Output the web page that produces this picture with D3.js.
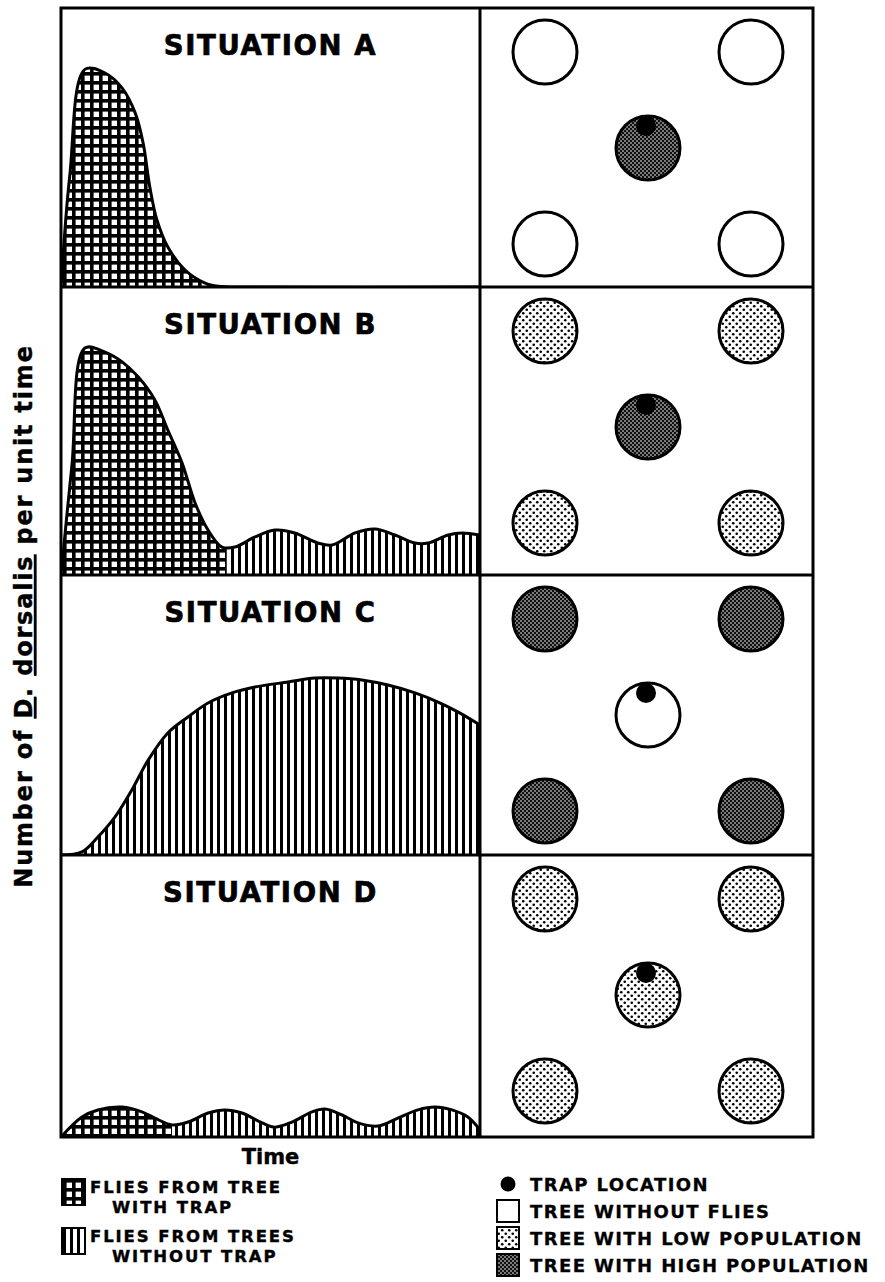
<!DOCTYPE html>
<html>
<head>
<meta charset="utf-8">
<script src="https://cdn.jsdelivr.net/npm/d3@7"></script>
<style>
  html, body { margin: 0; padding: 0; background: #fff; }
  svg { display: block; }
  text { font-family: "DejaVu Sans", "Liberation Sans", sans-serif; font-weight: bold; fill: #000; }
</style>
</head>
<body>
<svg id="chart" width="885" height="1282"></svg>
<script>
// ---------------- DATA ----------------
const situations = ["SITUATION A", "SITUATION B", "SITUATION C", "SITUATION D"];

// time (0-100) and count (0-100, relative to panel height)
const timeA  = [0, 2.1, 5.7, 10.5, 14.6, 17.7, 19.6, 21.2, 22.9, 25.5, 29.6, 34.4, 37.5, 45, 100];
const countA = [0, 40, 78, 76.7, 71.3, 62.4, 51.6, 35.8, 24, 14.3, 6.1, 1.4, 0.3, 0, 0];

const timeB  = [0, 2.6, 5.7, 10.5, 14.6, 18.4, 22.4, 25.5, 28.9, 32, 35.1, 38.4, 41.5, 46.3, 51.1, 55.8, 61.3, 64.7, 70.2, 74.9, 79.7, 84.5, 87.6, 92.4, 95.7, 100];
const countB = [0, 38, 78.8, 77.4, 74, 68.8, 60.8, 50.3, 38.9, 25, 15.6, 9.7, 9.7, 13.2, 15.6, 14.6, 11.1, 10.4, 14.6, 16, 13.9, 11.1, 11.1, 13.9, 14.6, 13.9];

const timeC  = [0, 5, 8.8, 12.9, 16.9, 20.8, 25.5, 30.3, 35.1, 40.8, 46.3, 54.2, 60.6, 66.1, 71.8, 78, 84.5, 90, 94.7, 100];
const countC = [0, 1.1, 6.4, 13.6, 23.2, 33.9, 43.6, 49.3, 54.3, 57.9, 60, 61.8, 63.2, 63.2, 62.5, 60.7, 57.9, 54.6, 51.1, 46.4];

const timeD  = [0, 5, 8.8, 14.6, 19.3, 22.4, 26.5, 30.3, 35.1, 39.1, 43.2, 48, 51.1, 55.1, 59.9, 63, 67.1, 70.9, 75.7, 80.4, 85.2, 89.3, 93.3, 97.1, 100];
const countD = [0, 7.1, 9.6, 10.6, 8.9, 6.7, 4.3, 5.3, 8.5, 9.6, 8.5, 5, 3.5, 5.3, 8.9, 9.9, 7.8, 5, 3.9, 6.7, 9.6, 10.6, 9.6, 7.1, 2.5];

const seriesTime  = [timeA, timeB, timeC, timeD];
const seriesCount = [countA, countB, countC, countD];
// time at which flies from the tree with trap stop contributing (crosshatch -> vertical stripes)
const trapEndTime = [100, 39.5, 0, 26.5];

// tree grid (column, row) for the five trees, center one carries the trap
const treeCol = [0, 2, 1, 0, 2];
const treeRow = [0, 0, 1, 2, 2];
const trapTree = 2;
// tree status per situation: corner trees, center tree
const cornerStatus = ["none", "low", "high", "low"];
const centerStatus = ["high", "high", "none", "low"];

const legendLeft  = [["FLIES FROM TREE", "WITH TRAP"], ["FLIES FROM TREES", "WITHOUT TRAP"]];
const legendRight = ["TRAP LOCATION", "TREE WITHOUT FLIES", "TREE WITH LOW POPULATION", "TREE WITH HIGH POPULATION"];
const yTitle = ["Number of ", "D", ". ", "dorsalis", " per unit time"];
const xTitle = "Time";

// ---------------- LAYOUT ----------------
const frameLeft = 61, frameMid = 480, frameRight = 813;
const panelEdges = [8, 287, 575, 855, 1137];

const svg = d3.select("#chart");
const defs = svg.append("defs");

// patterns
const ph = defs.append("pattern").attr("id", "hatch").attr("patternUnits", "userSpaceOnUse")
  .attr("width", 9).attr("height", 9);
ph.append("rect").attr("width", 9).attr("height", 9).attr("fill", "#fff");
ph.append("rect").attr("x", 0).attr("y", 0).attr("width", 3.6).attr("height", 9).attr("fill", "#000");
ph.append("rect").attr("x", 0).attr("y", 0).attr("width", 9).attr("height", 3.6).attr("fill", "#000");

const pv = defs.append("pattern").attr("id", "stripes").attr("patternUnits", "userSpaceOnUse")
  .attr("width", 7).attr("height", 7);
pv.append("rect").attr("width", 7).attr("height", 7).attr("fill", "#fff");
pv.append("rect").attr("x", 0).attr("width", 3).attr("height", 7).attr("fill", "#000");

const pl = defs.append("pattern").attr("id", "low").attr("patternUnits", "userSpaceOnUse")
  .attr("width", 7).attr("height", 7);
pl.append("rect").attr("width", 7).attr("height", 7).attr("fill", "#fff");
pl.append("circle").attr("cx", 1.75).attr("cy", 1.75).attr("r", 1.3).attr("fill", "#000");
pl.append("circle").attr("cx", 5.25).attr("cy", 5.25).attr("r", 1.3).attr("fill", "#000");

const pd = defs.append("pattern").attr("id", "high").attr("patternUnits", "userSpaceOnUse")
  .attr("width", 4).attr("height", 4);
pd.append("rect").attr("width", 4).attr("height", 4).attr("fill", "#111");
pd.append("circle").attr("cx", 1).attr("cy", 1).attr("r", 0.8).attr("fill", "#fff");
pd.append("circle").attr("cx", 3).attr("cy", 3).attr("r", 0.8).attr("fill", "#fff");

const statusFill = { none: "#fff", low: "url(#low)", high: "url(#high)" };

const x = d3.scaleLinear().domain([0, 100]).range([frameLeft, frameMid]);
const gx = d3.scaleLinear().domain([0, 2]).range([frameMid + 65, frameMid + 271]);
const curve = d3.curveCatmullRom.alpha(0.5);

situations.forEach((name, i) => {
  const top = panelEdges[i], bottom = panelEdges[i + 1];
  const y = d3.scaleLinear().domain([0, 100]).range([bottom, top]);
  const gy = d3.scaleLinear().domain([0, 2]).range([top + 44, top + 236]);
  const pts = seriesTime[i].map((t, k) => [t, seriesCount[i][k]]);

  const g = svg.append("g");
  const clipId = "clip" + i;
  defs.append("clipPath").attr("id", clipId).append("rect")
    .attr("x", frameLeft).attr("y", top).attr("width", frameMid - frameLeft).attr("height", bottom - top);

  const area = d3.area().x(d => x(d[0])).y0(y(0)).y1(d => y(d[1])).curve(curve);
  const line = d3.line().x(d => x(d[0])).y(d => y(d[1])).curve(curve);

  // split clip for trap / non-trap flies
  const split = x(trapEndTime[i]);
  const cA = "clipTrap" + i, cB = "clipWild" + i;
  defs.append("clipPath").attr("id", cA).append("rect")
    .attr("x", frameLeft).attr("y", top).attr("width", Math.max(0, split - frameLeft)).attr("height", bottom - top);
  defs.append("clipPath").attr("id", cB).append("rect")
    .attr("x", split).attr("y", top).attr("width", Math.max(0, frameMid - split)).attr("height", bottom - top);

  const cg = g.append("g").attr("clip-path", `url(#${clipId})`);
  cg.append("path").datum(pts).attr("d", area).attr("fill", "url(#hatch)").attr("clip-path", `url(#${cA})`);
  cg.append("path").datum(pts).attr("d", area).attr("fill", "url(#stripes)").attr("clip-path", `url(#${cB})`);
  cg.append("path").datum(pts).attr("d", line).attr("fill", "none").attr("stroke", "#000")
    .attr("stroke-width", 3).attr("stroke-linejoin", "round");

  g.append("text").attr("x", (frameLeft + frameMid) / 2).attr("y", top + 47)
    .attr("text-anchor", "middle").attr("font-size", 27.5).attr("letter-spacing", 1.6)
    .attr("stroke", "#000").attr("stroke-width", 0.7).text(name);

  // trees
  const trees = treeCol.map((c, k) => ({ c, r: treeRow[k], status: k === trapTree ? centerStatus[i] : cornerStatus[i], trap: k === trapTree }));
  g.selectAll("circle.tree").data(trees).join("circle").attr("class", "tree")
    .attr("cx", d => gx(d.c)).attr("cy", d => gy(d.r)).attr("r", 32)
    .attr("fill", d => statusFill[d.status]).attr("stroke", "#000").attr("stroke-width", 3);
  g.selectAll("circle.trap").data(trees.filter(d => d.trap)).join("circle").attr("class", "trap")
    .attr("cx", d => gx(d.c) - 2).attr("cy", d => gy(d.r) - 22).attr("r", 10).attr("fill", "#000");
});

// frame lines
const frame = svg.append("g").attr("stroke", "#000").attr("stroke-width", 3).attr("fill", "none");
frame.append("rect").attr("x", frameLeft).attr("y", panelEdges[0])
  .attr("width", frameRight - frameLeft).attr("height", panelEdges[4] - panelEdges[0]);
frame.append("line").attr("x1", frameMid).attr("x2", frameMid).attr("y1", panelEdges[0]).attr("y2", panelEdges[4]);
panelEdges.slice(1, 4).forEach(e => frame.append("line").attr("x1", frameLeft).attr("x2", frameRight).attr("y1", e).attr("y2", e));

// axis titles
const yt = svg.append("text").attr("transform", "translate(32,616) rotate(-90)")
  .attr("text-anchor", "middle").attr("font-size", 24).attr("letter-spacing", 1.8)
  .attr("stroke", "#000").attr("stroke-width", 0.4);
yTitle.forEach((s, k) => {
  const ts = yt.append("tspan").text(s);
  if (k === 1 || k === 3) ts.attr("text-decoration", "underline");
});
svg.append("text").attr("x", (frameLeft + frameMid) / 2).attr("y", 1164)
  .attr("text-anchor", "middle").attr("font-size", 21).attr("stroke", "#000").attr("stroke-width", 0.4).text(xTitle);

// legend left
const lf = 16.5;
const leftSw = [{ fill: "url(#hatch)", y: 1179 }, { fill: "url(#stripes)", y: 1228 }];
leftSw.forEach((s, k) => {
  svg.append("rect").attr("x", 62).attr("y", s.y).attr("width", 23).attr("height", 26)
    .attr("fill", s.fill).attr("stroke", "#000").attr("stroke-width", 2);
  svg.append("text").attr("x", 90).attr("y", s.y + 14).attr("font-size", lf).attr("letter-spacing", 1.9)
    .attr("stroke", "#000").attr("stroke-width", 0.4).text(legendLeft[k][0]);
  svg.append("text").attr("x", 112).attr("y", s.y + 34).attr("font-size", lf).attr("letter-spacing", 1.9)
    .attr("stroke", "#000").attr("stroke-width", 0.4).text(legendLeft[k][1]);
});

// legend right
const rows = [1191, 1218, 1245, 1272];
svg.append("circle").attr("cx", 508).attr("cy", 1184).attr("r", 7.5).attr("fill", "#000");
[["none", 1], ["low", 2], ["high", 3]].forEach(([st, k]) => {
  svg.append("rect").attr("x", 497).attr("y", rows[k] - 18).attr("width", 22).attr("height", 22)
    .attr("fill", statusFill[st]).attr("stroke", "#000").attr("stroke-width", 2);
});
legendRight.forEach((s, k) => {
  svg.append("text").attr("x", 530).attr("y", rows[k]).attr("font-size", 18).attr("letter-spacing", 1.4)
    .attr("stroke", "#000").attr("stroke-width", 0.3).text(s);
});
</script>
</body>
</html>
